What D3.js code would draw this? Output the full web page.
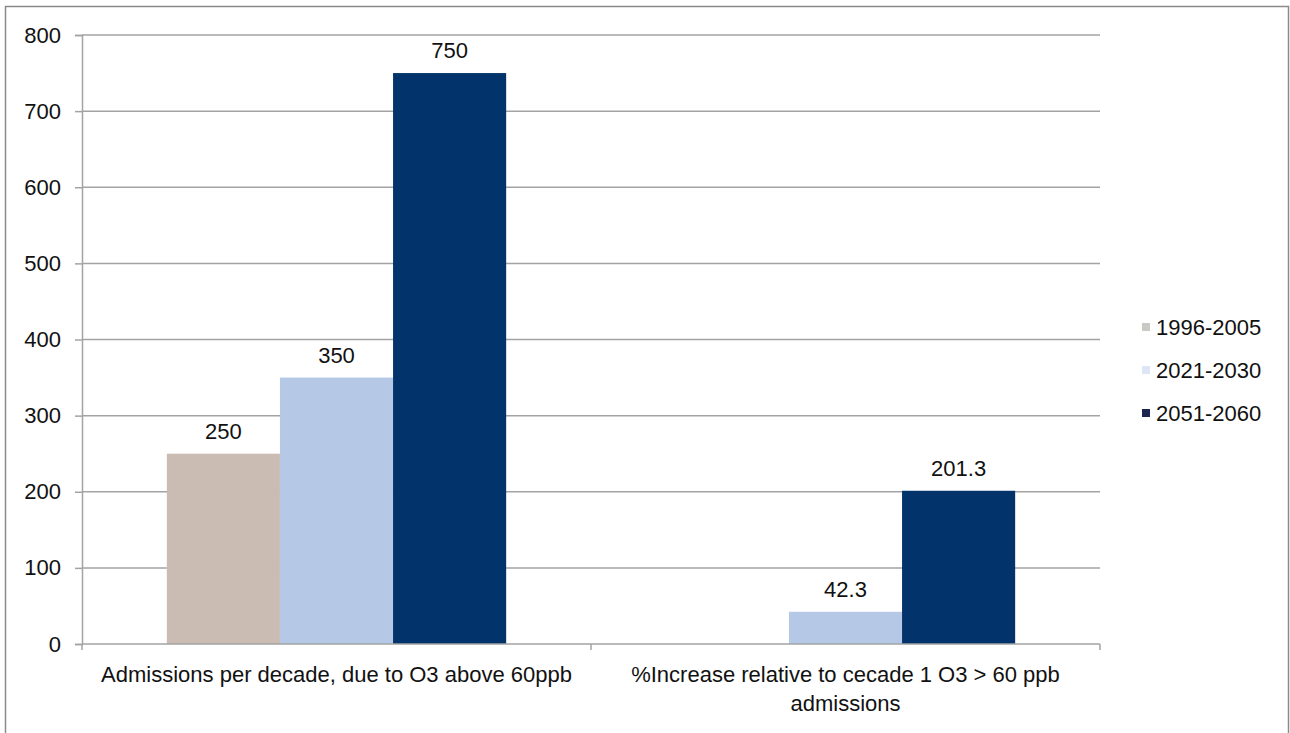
<!DOCTYPE html>
<html>
<head>
<meta charset="utf-8">
<script src="https://cdn.jsdelivr.net/npm/d3@7/dist/d3.min.js"></script>
<style>
  html, body { margin: 0; padding: 0; background: #fff; }
  svg { display: block; }
  text { font-family: "Liberation Sans", Arial, sans-serif; fill: #111; }
</style>
</head>
<body>
<svg id="chart" width="1290" height="733"></svg>
<script>
// Category groups along the x axis (second label wraps onto two lines)
const categories = [
  ["Admissions per decade, due to O3 above 60ppb"],
  ["%Increase relative to cecade 1 O3 > 60 ppb", "admissions"]
];
const seriesNames = ["1996-2005", "2021-2030", "2051-2060"];
// One value per category for each decade; null = no bar
const values1996 = [250, null];
const values2021 = [350, 42.3];
const values2051 = [750, 201.3];
const seriesColors = ["#cbbcb3", "#b5c9e7", "#02336a"];
const legendColors = ["#c9c9c6", "#dde6f4", "#1d2550"];
const yTicks = [0, 100, 200, 300, 400, 500, 600, 700, 800];

const seriesValues = [values1996, values2021, values2051];

const svg = d3.select("#chart");
const plotLeft = 82, plotRight = 1100, plotTop = 35, plotBottom = 644;

// outer frame
svg.append("rect")
  .attr("x", 5.5).attr("y", 6.5).attr("width", 1283).attr("height", 760)
  .attr("fill", "none").attr("stroke", "#8a8a8a").attr("stroke-width", 1.5);

const y = d3.scaleLinear().domain([0, 800]).range([plotBottom, plotTop]);
const x = d3.scaleBand().domain(d3.range(categories.length)).range([plotLeft, plotRight]).padding(0);
const xs = d3.scaleBand().domain(d3.range(seriesNames.length))
  .range([0, x.bandwidth()]).paddingInner(0).paddingOuter(0.75);

// horizontal gridlines
svg.append("g").selectAll("line").data(yTicks.filter(d => d > 0)).join("line")
  .attr("x1", plotLeft).attr("x2", plotRight)
  .attr("y1", d => y(d)).attr("y2", d => y(d))
  .attr("stroke", "#a3a3a3").attr("stroke-width", 1.5);

// bars
const bars = [];
seriesValues.forEach((vals, si) => vals.forEach((v, ci) => {
  if (v !== null) bars.push({ si, ci, v });
}));
svg.append("g").selectAll("rect").data(bars).join("rect")
  .attr("x", d => x(d.ci) + xs(d.si))
  .attr("width", xs.bandwidth())
  .attr("y", d => y(d.v))
  .attr("height", d => y(0) - y(d.v))
  .attr("fill", d => seriesColors[d.si]);

// value labels above bars
svg.append("g").selectAll("text").data(bars).join("text")
  .attr("x", d => x(d.ci) + xs(d.si) + xs.bandwidth() / 2)
  .attr("y", d => y(d.v) - 15)
  .attr("text-anchor", "middle")
  .attr("font-size", 22)
  .text(d => d.v);

// y axis
const yAxis = svg.append("g").attr("transform", `translate(${plotLeft},0)`)
  .call(d3.axisLeft(y).tickValues(yTicks).tickSize(7).tickPadding(14));
yAxis.select(".domain").attr("stroke", "#a3a3a3").attr("stroke-width", 1.5);
yAxis.selectAll(".tick line").attr("stroke", "#a3a3a3").attr("stroke-width", 1.5);
yAxis.selectAll(".tick text").attr("font-size", 22).attr("font-family", "Liberation Sans, Arial, sans-serif").attr("fill", "#111");

// x axis baseline with separator ticks
svg.append("line").attr("x1", plotLeft).attr("x2", plotRight).attr("y1", plotBottom).attr("y2", plotBottom)
  .attr("stroke", "#a3a3a3").attr("stroke-width", 1.5);
const sepTicks = [plotLeft, ...d3.range(categories.length).map(i => x(i) + x.bandwidth())];
svg.append("g").selectAll("line").data(sepTicks).join("line")
  .attr("x1", d => d).attr("x2", d => d).attr("y1", plotBottom).attr("y2", plotBottom + 6)
  .attr("stroke", "#a3a3a3").attr("stroke-width", 1.5);

// category labels
const catG = svg.append("g").selectAll("text").data(categories).join("text")
  .attr("text-anchor", "middle")
  .attr("font-size", 22);
catG.each(function(lines, i) {
  d3.select(this).selectAll("tspan").data(lines).join("tspan")
    .attr("x", x(i) + x.bandwidth() / 2)
    .attr("y", (d, j) => 682 + j * 29)
    .text(d => d);
});

// legend
const lg = svg.append("g").selectAll("g").data(seriesNames).join("g")
  .attr("transform", (d, i) => `translate(1142, ${327 + i * 43})`);
lg.append("rect").attr("x", 0).attr("y", -4).attr("width", 8).attr("height", 8)
  .attr("fill", (d, i) => legendColors[i]);
lg.append("text").attr("x", 14).attr("y", 8).attr("font-size", 22).text(d => d);
</script>
</body>
</html>
